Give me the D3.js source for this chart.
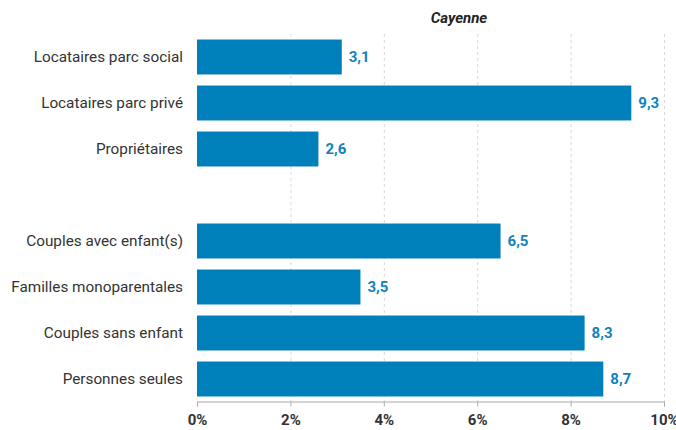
<!DOCTYPE html>
<html><head><meta charset="utf-8">
<script src="https://cdn.jsdelivr.net/npm/d3@7"></script>
<style>body{margin:0;background:#fff;}svg{display:block;font-family:Roboto,"Noto Sans",sans-serif;}</style>
</head><body>
<svg id="c" width="676" height="430"></svg>
<script>
const categories = ["Locataires parc social","Locataires parc privé","Propriétaires","__gap__","Couples avec enfant(s)","Familles monoparentales","Couples sans enfant","Personnes seules"];
const values = [3.1, 9.3, 2.6, null, 6.5, 3.5, 8.3, 8.7];
const ticks = [0, 2, 4, 6, 8, 10];
const title = "Cayenne";

const svg = d3.select("#c");
const x = d3.scaleLinear().domain([0, 10]).range([197, 664]);
const y = d3.scaleBand().domain(categories).range([34, 402]).paddingInner(0.24).paddingOuter(0.12);

// grid
svg.append("g").selectAll("line").data(ticks.slice(1)).join("line")
  .attr("x1", d => x(d) + 0.5).attr("x2", d => x(d) + 0.5)
  .attr("y1", 34).attr("y2", 401)
  .attr("stroke", "#d9d9d9").attr("stroke-dasharray", "3,3");

const data = categories.map((c, i) => ({c, v: values[i]})).filter(d => d.v !== null);

svg.append("g").selectAll("rect").data(data).join("rect")
  .attr("x", x(0)).attr("y", d => y(d.c))
  .attr("width", d => x(d.v) - x(0)).attr("height", y.bandwidth())
  .attr("fill", "#0080ba");

svg.append("g").selectAll("text").data(data).join("text")
  .attr("x", d => x(d.v) + 7).attr("y", d => y(d.c) + y.bandwidth() / 2)
  .attr("dy", "0.35em").attr("font-size", 15).attr("font-weight", "bold")
  .attr("fill", "#0f82c0").text(d => String(d.v).replace(".", ","));

svg.append("g").selectAll("text").data(data).join("text")
  .attr("x", 183).attr("y", d => y(d.c) + y.bandwidth() / 2)
  .attr("dy", "0.35em").attr("text-anchor", "end").attr("font-size", 15.3)
  .attr("fill", "#333").text(d => d.c);

const ax = svg.append("g").attr("transform", "translate(0,401.5)")
  .call(d3.axisBottom(x).tickValues(ticks).tickSize(5).tickFormat(d => d + "%"));
ax.select(".domain").attr("stroke", "#aaa");
ax.selectAll(".tick line").attr("stroke", "#aaa");
ax.selectAll(".tick text").attr("font-size", 15).attr("font-weight", "bold")
  .attr("fill", "#333").attr("font-family", "Roboto, sans-serif").attr("dy", "1em");

svg.append("text").attr("x", 459).attr("y", 23).attr("text-anchor", "middle")
  .attr("font-size", 15).attr("font-weight", "bold").attr("font-style", "italic")
  .attr("fill", "#222").text(title);
</script>
</body></html>
